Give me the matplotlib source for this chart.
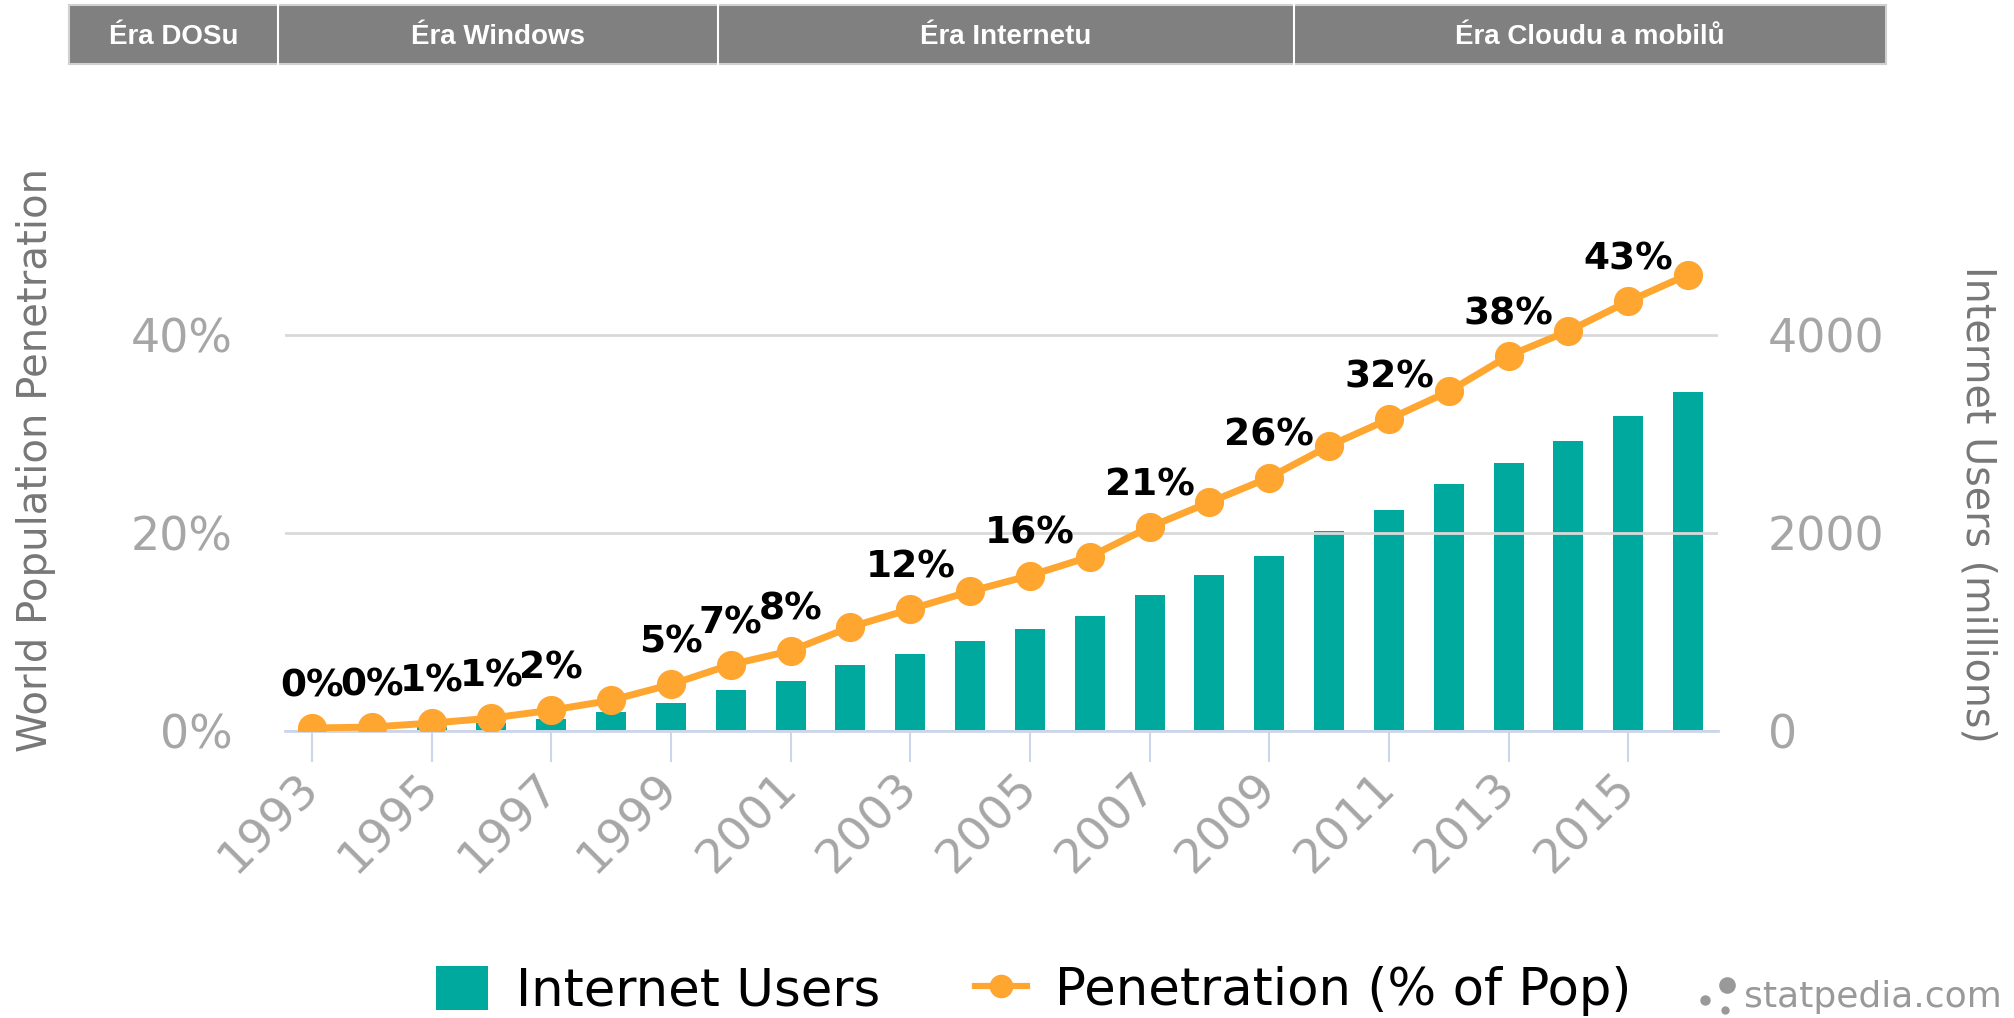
import numpy as np
import matplotlib
matplotlib.use('Agg')
import matplotlib.pyplot as plt
from matplotlib.patches import Rectangle, Patch
from matplotlib.lines import Line2D

years = list(range(1993, 2017))
users = [14, 25, 45, 77, 121, 188, 281, 413, 502, 662, 781, 913, 1030, 1162,
         1373, 1575, 1766, 2023, 2231, 2494, 2712, 2925, 3185, 3424]
penetration = [0.3, 0.4, 0.8, 1.3, 2.1, 3.1, 4.7, 6.7, 8.1, 10.5, 12.3, 14.1,
               15.7, 17.6, 20.6, 23.1, 25.6, 28.8, 31.5, 34.3, 37.9, 40.4, 43.4, 46.1]
label_years = [1993, 1994, 1995, 1996, 1997, 1999, 2000, 2001, 2003, 2005,
               2007, 2009, 2011, 2013, 2015]
eras = ['Éra DOSu', 'Éra Windows', 'Éra Internetu', 'Éra Cloudu a mobilů']
era_edges = [69, 278, 718, 1294, 1886]  # pixel columns of the header band

TEAL = '#00a99d'
ORANGE = '#ffa630'
GREY = '#a6a6a6'
AXIS = '#ccd6eb'

W, H = 2015, 1018
fig = plt.figure(figsize=(W / 100, H / 100), dpi=100)
fig.patch.set_facecolor('white')

# main axes
ax = fig.add_axes([285 / W, 1 - 731 / H, (1718 - 285) / W, (731 - 236) / H])
ax2 = ax.twinx()
ax.set_zorder(ax2.get_zorder() + 1)
ax.patch.set_visible(False)

x = np.arange(len(years))
ax2.bar(x, users, width=0.5, color=TEAL, zorder=2)
ax2.set_ylim(0, 5000)
ax2.set_yticks([0, 2000, 4000])
ax2.set_yticklabels(['0', '2000', '4000'])

ax.plot(x, penetration, color=ORANGE, lw=5, marker='o', ms=20, zorder=3)
for yr in label_years:
    i = years.index(yr)
    ax.annotate('%d%%' % round(penetration[i]), (x[i], penetration[i]),
                xytext=(0, 30), textcoords='offset points', ha='center', va='center',
                fontsize=27, fontweight='bold', color='black', annotation_clip=False)

ax.set_ylim(0, 50)
ax.set_yticks([0, 20, 40])
ax.set_yticklabels(['0%', '20%', '40%'])
ax.set_xlim(-0.45, len(years) - 0.5)
ax.set_xticks(x[::2])
ax.set_xticklabels([str(y) for y in years[::2]], rotation=45, ha='right',
                   va='center', rotation_mode='anchor')

for a in (ax, ax2):
    for s in a.spines.values():
        s.set_visible(False)
ax.spines['bottom'].set_visible(True)
ax.spines['bottom'].set_color(AXIS)
ax.spines['bottom'].set_linewidth(2)

ax.grid(axis='y', color='#d9d9d9', lw=2)
ax.set_axisbelow(True)
ax.tick_params(axis='y', length=0, pad=38, labelsize=33, labelcolor=GREY)
ax2.tick_params(axis='y', length=0, pad=36, labelsize=33, labelcolor=GREY)
ax.tick_params(axis='x', length=22, width=1.5, color=AXIS, pad=14,
               labelsize=34, labelcolor=GREY)

ax.set_ylabel('World Population Penetration', fontsize=29, color='#777777')
ax2.set_ylabel('Internet Users (millions)', fontsize=28.5, color='#777777',
               rotation=270)
ax.yaxis.set_label_coords((56 - 285) / (1718 - 285), 0.547)
ax2.yaxis.set_label_coords((1998 - 285) / (1718 - 285), 0.457)

# era header band
top, bot = 5, 64
fig.add_artist(Rectangle((era_edges[0] / W, 1 - bot / H), (era_edges[-1] - era_edges[0]) / W,
                         (bot - top) / H, transform=fig.transFigure,
                         facecolor='#808080', edgecolor='#d0d0d0', lw=1.5))
for i, name in enumerate(eras):
    l, r = era_edges[i], era_edges[i + 1]
    if i > 0:
        fig.add_artist(Line2D([l / W, l / W], [1 - bot / H, 1 - top / H],
                              transform=fig.transFigure, color='white', lw=1.5))
    fig.text((l + r) / 2 / W, 1 - (top + bot + 4) / 2 / H, name, ha='center', va='center',
             color='white', fontsize=20, fontweight='bold',
             family=['Liberation Sans', 'DejaVu Sans'])

# legend
handles = [Patch(facecolor=TEAL, edgecolor='none'),
           Line2D([], [], color=ORANGE, lw=4.5, marker='o', ms=16)]
fig.legend(handles, ['Internet Users', 'Penetration (% of Pop)'], loc='center',
           bbox_to_anchor=(1034 / W, 1 - 991 / H), ncol=2, frameon=False,
           fontsize=37, handlelength=1.0, handleheight=0.95, handletextpad=0.55,
           columnspacing=1.85)

# watermark
fig.text(1744 / W, 1 - 997 / H, 'statpedia.com', color='#999999', fontsize=26,
         ha='left', va='center')
for (px, py, ms) in [(1705, 1000, 7.5), (1727, 985, 12), (1725, 1010, 6)]:
    fig.add_artist(Line2D([px / W], [1 - py / H], marker='o', ms=ms, color='#999999',
                          mec='none', transform=fig.transFigure))

fig.savefig('out.png', dpi=100)
